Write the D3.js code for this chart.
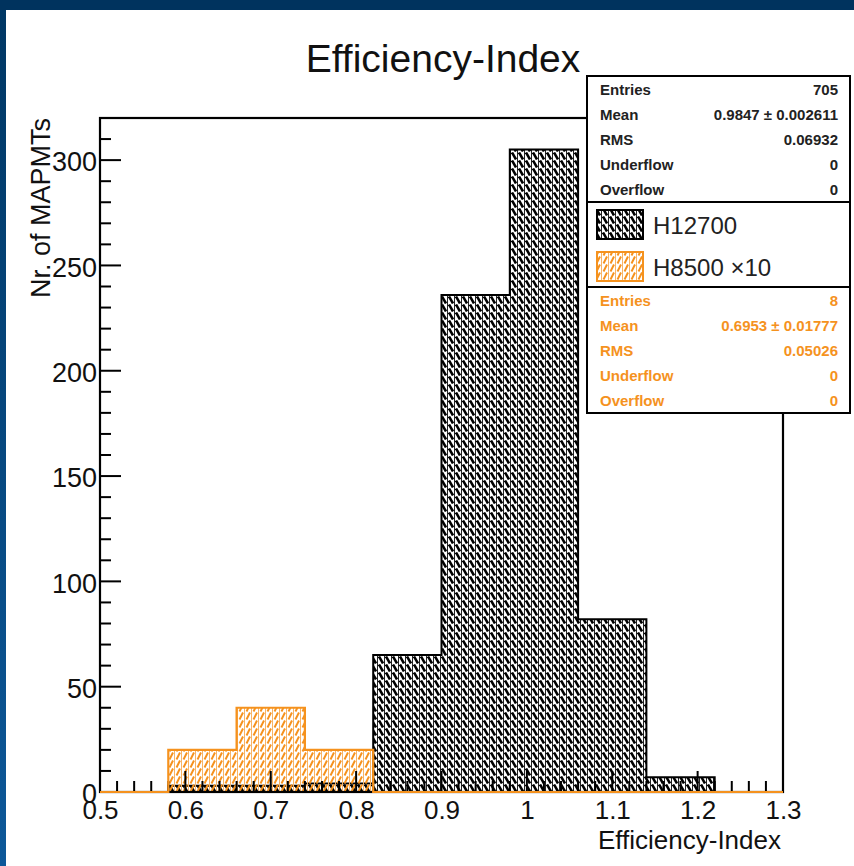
<!DOCTYPE html>
<html>
<head>
<meta charset="utf-8">
<script src="https://cdn.jsdelivr.net/npm/d3@7"></script>
<style>
  body { margin: 0; background: #fff; }
  svg { display: block; }
  text { font-family: "Liberation Sans", Arial, sans-serif; }
</style>
</head>
<body>
<svg id="chart"></svg>
<script>
// bin edges of both histograms (width 0.08)
var binEdges = [0.5, 0.58, 0.66, 0.74, 0.82, 0.90, 0.98, 1.06, 1.14, 1.22, 1.30];
// H12700 counts per bin
var h12700Counts = [0, 3, 3, 4, 65, 236, 305, 82, 7, 0];
// H8500 counts per bin, already scaled x10
var h8500Counts = [0, 20, 40, 20, 0, 0, 0, 0, 0, 0];

var xMajorTicks = [0.5, 0.6, 0.7, 0.8, 0.9, 1.0, 1.1, 1.2, 1.3];
var xTickLabels = ["0.5", "0.6", "0.7", "0.8", "0.9", "1", "1.1", "1.2", "1.3"];
var yMajorTicks = [0, 50, 100, 150, 200, 250, 300];

var statLabels = ["Entries", "Mean", "RMS", "Underflow", "Overflow"];
var h12700Stats = ["705", "0.9847 \u00b1 0.002611", "0.06932", "0", "0"];
var h8500Stats = ["8", "0.6953 \u00b1 0.01777", "0.05026", "0", "0"];
var legendNames = ["H12700", "H8500 \u00d710"];

var W = 854, H = 866;
var orange = "#f5921e";

var svg = d3.select("#chart").attr("width", W).attr("height", H);

// slide background around the canvas
var defs = svg.append("defs");
var grad = defs.append("linearGradient").attr("id", "slideGrad")
  .attr("x1", 0).attr("y1", 0).attr("x2", 0).attr("y2", 1);
grad.append("stop").attr("offset", "0%").attr("stop-color", "#003764");
grad.append("stop").attr("offset", "100%").attr("stop-color", "#0d5899");
svg.append("rect").attr("width", W).attr("height", H).attr("fill", "url(#slideGrad)");
svg.append("rect").attr("x", 0).attr("width", W).attr("height", 10).attr("fill", "#00335e");
svg.append("rect").attr("x", 6).attr("y", 10).attr("width", W - 6).attr("height", H - 10).attr("fill", "#ffffff");

// hatch patterns
var pb = defs.append("pattern").attr("id", "hatchBlack")
  .attr("patternUnits", "userSpaceOnUse").attr("width", 7).attr("height", 8);
pb.append("path").attr("d", "M1,0.5 L5,7.5").attr("stroke", "#000").attr("stroke-width", 2.6);
pb.append("path").attr("d", "M6.5,0 V8").attr("stroke", "#222").attr("stroke-width", 1);

var po = defs.append("pattern").attr("id", "hatchOrange")
  .attr("patternUnits", "userSpaceOnUse").attr("width", 7).attr("height", 8);
po.append("path").attr("d", "M1.5,7.5 L5,0.5").attr("stroke", orange).attr("stroke-width", 2);
po.append("path").attr("d", "M6.5,0 V8").attr("stroke", "#f8b466").attr("stroke-width", 1);

// frame
var frameL = 100, frameR = 783, frameT = 118, frameB = 792;
var x = d3.scaleLinear().domain([0.5, 1.3]).range([frameL, frameR]);
var y = d3.scaleLinear().domain([0, 320]).range([frameB, frameT]);

function stepPoints(counts) {
  var pts = [[binEdges[0], 0]];
  counts.forEach(function (c, i) {
    pts.push([binEdges[i], c]);
    pts.push([binEdges[i + 1], c]);
  });
  pts.push([binEdges[binEdges.length - 1], 0]);
  return pts;
}

var area = d3.area().x(d => x(d[0])).y0(y(0)).y1(d => y(d[1]));
var line = d3.line().x(d => x(d[0])).y(d => y(d[1]));

var g = svg.append("g");

// H12700
var blackPts = stepPoints(h12700Counts);
g.append("path").datum(blackPts).attr("d", area).attr("fill", "url(#hatchBlack)");
g.append("path").datum(blackPts).attr("d", line)
  .attr("fill", "none").attr("stroke", "#000").attr("stroke-width", 2);

// H8500 x10
var orangePts = stepPoints(h8500Counts);
g.append("path").datum(orangePts).attr("d", area).attr("fill", "url(#hatchOrange)");

// frame box
svg.append("rect").attr("x", frameL).attr("y", frameT)
  .attr("width", frameR - frameL).attr("height", frameB - frameT)
  .attr("fill", "none").attr("stroke", "#000").attr("stroke-width", 2.2);

// ticks inside the frame, ROOT style
var xMinor = d3.range(0.52, 1.3, 0.02).filter(v => Math.abs(v * 10 - Math.round(v * 10)) > 0.01);
var yMinor = d3.range(10, 320, 10).filter(v => v % 50 !== 0);
var ticks = svg.append("g").attr("stroke", "#000").attr("stroke-width", 2);
ticks.selectAll(".xminor").data(xMinor).join("line").attr("class", "xminor")
  .attr("x1", d => x(d)).attr("x2", d => x(d)).attr("y1", frameB).attr("y2", frameB - 11);
ticks.selectAll(".xmajor").data(xMajorTicks).join("line").attr("class", "xmajor")
  .attr("x1", d => x(d)).attr("x2", d => x(d)).attr("y1", frameB).attr("y2", frameB - 21);
ticks.selectAll(".yminor").data(yMinor).join("line").attr("class", "yminor")
  .attr("y1", d => y(d)).attr("y2", d => y(d)).attr("x1", frameL).attr("x2", frameL + 11);
ticks.selectAll(".ymajor").data(yMajorTicks).join("line").attr("class", "ymajor")
  .attr("y1", d => y(d)).attr("y2", d => y(d)).attr("x1", frameL).attr("x2", frameL + 21);

// tick labels via d3 axes
var xAxis = svg.append("g").attr("transform", "translate(0," + frameB + ")")
  .call(d3.axisBottom(x).tickValues(xMajorTicks).tickSize(0)
    .tickFormat((d, i) => xTickLabels[i]))
  .call(a => a.select(".domain").remove());
xAxis.selectAll("text").attr("y", 27).attr("dy", 0)
  .attr("fill", "#111").attr("font-size", 26)
  .attr("font-family", "'Liberation Sans', Arial, sans-serif");

var yAxis = svg.append("g").attr("transform", "translate(" + frameL + ",0)")
  .call(d3.axisLeft(y).tickValues(yMajorTicks).tickSize(0).tickFormat(d3.format("d")))
  .call(a => a.select(".domain").remove());
yAxis.selectAll("text").attr("x", -3).attr("dy", "0.4em")
  .attr("fill", "#111").attr("font-size", 27)
  .attr("font-family", "'Liberation Sans', Arial, sans-serif");

// orange outline on top (runs along the whole bottom)
svg.append("path").datum(orangePts).attr("d", line)
  .attr("fill", "none").attr("stroke", orange).attr("stroke-width", 2.2);

// titles
svg.append("text").attr("x", 443).attr("y", 72).attr("text-anchor", "middle")
  .attr("font-size", 39).attr("fill", "#111").text("Efficiency-Index");
svg.append("text").attr("x", 781).attr("y", 849).attr("text-anchor", "end")
  .attr("font-size", 26).attr("fill", "#111").text("Efficiency-Index");
svg.append("text").attr("transform", "translate(50,118) rotate(-90)")
  .attr("text-anchor", "end").attr("font-size", 27).attr("fill", "#111")
  .text("Nr. of MAPMTs");

// stats boxes + legend
var bx = 587, bw = 263;
function statBox(y0, y1, values, color) {
  svg.append("rect").attr("x", bx).attr("y", y0).attr("width", bw).attr("height", y1 - y0)
    .attr("fill", "#fff").attr("stroke", "#000").attr("stroke-width", 2);
  statLabels.forEach(function (lab, i) {
    var by = y0 + 19 + i * 25;
    svg.append("text").attr("x", 600).attr("y", by).attr("font-size", 15)
      .attr("font-weight", "bold").attr("fill", color).text(lab);
    svg.append("text").attr("x", 838).attr("y", by).attr("font-size", 15)
      .attr("font-weight", "bold").attr("text-anchor", "end").attr("fill", color).text(values[i]);
  });
}
statBox(76, 202, h12700Stats, "#222");

svg.append("rect").attr("x", bx).attr("y", 202).attr("width", bw).attr("height", 85)
  .attr("fill", "#fff").attr("stroke", "#000").attr("stroke-width", 2);
var swatches = [["url(#hatchBlack)", "#000", 210], ["url(#hatchOrange)", orange, 252]];
swatches.forEach(function (s, i) {
  svg.append("rect").attr("x", 597).attr("y", s[2]).attr("width", 46).attr("height", 29)
    .attr("fill", "#fff").attr("stroke", "none");
  svg.append("rect").attr("x", 597).attr("y", s[2]).attr("width", 46).attr("height", 29)
    .attr("fill", s[0]).attr("stroke", s[1]).attr("stroke-width", 2);
  svg.append("text").attr("x", 653).attr("y", s[2] + 24).attr("font-size", 24)
    .attr("fill", "#222").text(legendNames[i]);
});

statBox(287, 413, h8500Stats, orange);
</script>
</body>
</html>
